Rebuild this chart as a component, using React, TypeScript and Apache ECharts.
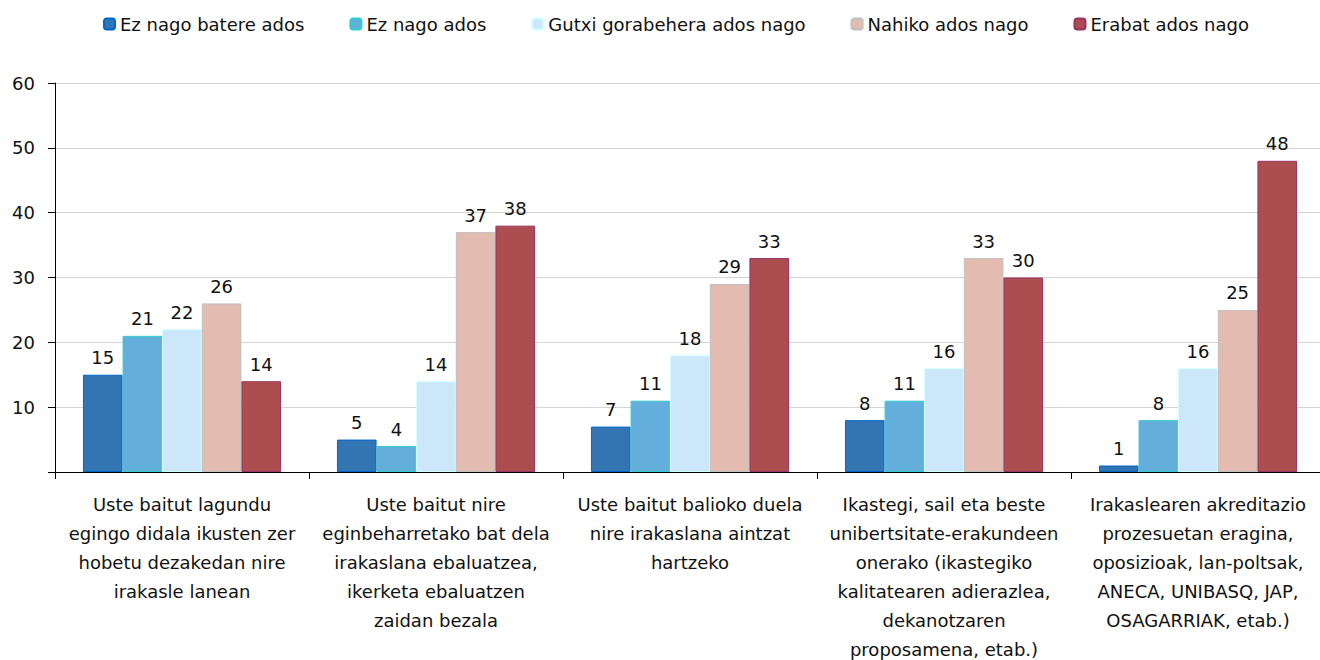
import React, { useEffect, useRef } from "react";
import * as echarts from "echarts";

const categories = [
  "Uste baitut lagundu\negingo didala ikusten zer\nhobetu dezakedan nire\nirakasle lanean",
  "Uste baitut nire\neginbeharretako bat dela\nirakaslana ebaluatzea,\nikerketa ebaluatzen\nzaidan bezala",
  "Uste baitut balioko duela\nnire irakaslana aintzat\nhartzeko",
  "Ikastegi, sail eta beste\nunibertsitate-erakundeen\nonerako (ikastegiko\nkalitatearen adierazlea,\ndekanotzaren\nproposamena, etab.)",
  "Irakaslearen akreditazio\nprozesuetan eragina,\noposizioak, lan-poltsak,\nANECA, UNIBASQ, JAP,\nOSAGARRIAK, etab.)",
];

const seriesNames = [
  "Ez nago batere ados",
  "Ez nago ados",
  "Gutxi gorabehera ados nago",
  "Nahiko ados nago",
  "Erabat ados nago",
];

const ezNagoBatereAdos = [15, 5, 7, 8, 1];
const ezNagoAdos = [21, 4, 11, 11, 8];
const gutxiGorabehera = [22, 14, 18, 16, 16];
const nahikoAdos = [26, 37, 29, 33, 25];
const erabatAdos = [14, 38, 33, 30, 48];

const seriesValues = [ezNagoBatereAdos, ezNagoAdos, gutxiGorabehera, nahikoAdos, erabatAdos];

const fills = ["#3275B2", "#64AEDC", "#CCE6FA", "#E3BBB1", "#AC4D4F"];
const borders = ["#0066CC", "#33CCCC", "#CCFFFF", "#C0C0C0", "#993366"];

const FONT = "DejaVu Sans";

export default function App() {
  const ref = useRef<HTMLDivElement>(null);
  useEffect(() => {
    if (!ref.current) return;
    const chart = echarts.init(ref.current, undefined, { renderer: "svg" });
    chart.setOption({
      animation: false,
      backgroundColor: "#ffffff",
      textStyle: { fontFamily: FONT },
      legend: {
        top: 10,
        left: 98,
        itemWidth: 11,
        itemHeight: 11,
        itemGap: 45,
        textStyle: { fontFamily: FONT, fontSize: 18, color: "#111" },
        data: seriesNames,
      },
      grid: {
        left: 55,
        width: 1270,
        top: 83,
        bottom: 188,
        containLabel: false,
        outerBoundsMode: "none",
      },
      xAxis: {
        type: "category",
        data: categories,
        axisLine: { lineStyle: { color: "#000", width: 1 } },
        axisTick: { show: true, length: 7, lineStyle: { color: "#000" } },
        axisLabel: {
          interval: 0,
          margin: 18,
          fontFamily: FONT,
          fontSize: 18,
          lineHeight: 29,
          color: "#111",
          hideOverlap: false,
        },
      },
      yAxis: {
        type: "value",
        min: 0,
        max: 60,
        interval: 10,
        axisLine: { show: true, lineStyle: { color: "#000", width: 1 } },
        axisTick: { show: true, length: 7, lineStyle: { color: "#000" } },
        axisLabel: {
          margin: 20,
          fontFamily: FONT,
          fontSize: 18,
          color: "#111",
          formatter: (v: number) => (v === 0 ? "" : String(v)),
        },
        splitLine: { show: true, lineStyle: { color: "#D4D4D4", width: 1 } },
      },
      series: seriesNames.map((name, i) => ({
        name,
        type: "bar",
        data: seriesValues[i],
        barGap: "0%",
        barCategoryGap: "22%",
        itemStyle: { color: fills[i], borderColor: borders[i], borderWidth: 1 },
        label: {
          show: true,
          position: "top",
          distance: 8,
          fontFamily: FONT,
          fontSize: 18,
          color: "#111",
        },
      })),
    });
    return () => chart.dispose();
  }, []);
  return (
    <div
      ref={ref}
      style={{ position: "absolute", left: 0, top: 0, width: 1320, height: 660 }}
    />
  );
}
